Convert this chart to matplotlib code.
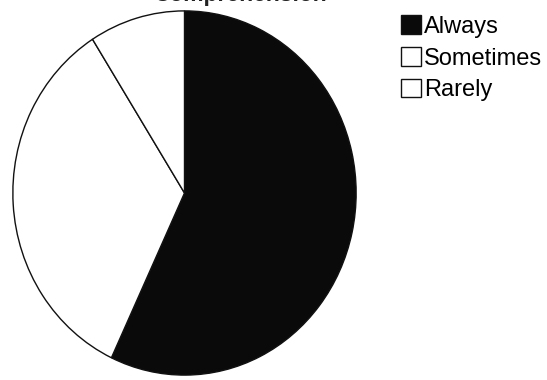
import matplotlib
matplotlib.use("Agg")
import matplotlib.pyplot as plt

# survey answers
labels = ["Always", "Sometimes", "Rarely"]
shares = [57, 34, 9]
colors = ["#0a0a0a", "white", "white"]

plt.rcParams["font.family"] = ["Liberation Sans", "DejaVu Sans"]

fig = plt.figure(figsize=(5.47, 3.80), dpi=100)

# pie is slightly stretched vertically in the original, so use a free-aspect axes
ax = fig.add_axes([12 / 547, 4 / 380, 345 / 547, 366 / 380])
wedges, _ = ax.pie(shares, colors=colors, startangle=90, counterclock=False,
                   radius=1.0,
                   wedgeprops=dict(edgecolor="#111111", linewidth=1.0))
ax.set_aspect("auto")
ax.set_xlim(-1.005, 1.005)
ax.set_ylim(-1.005, 1.005)
ax.axis("off")

# title sits mostly above the crop, only its bottom shows
fig.text(240 / 547, 1 - 1.2 / 380, "Comprehension", ha="center", va="baseline",
         fontsize=16.5, fontweight="bold", color="#222222")

fig.legend(wedges, labels, loc="upper left",
           bbox_to_anchor=(401 / 547, 1 - 15.5 / 380),
           frameon=False, fontsize=17, borderpad=0, borderaxespad=0,
           handlelength=0.85, handleheight=0.85, handletextpad=0.12,
           labelspacing=0.38)

fig.savefig("out.png", dpi=100, facecolor="white")
